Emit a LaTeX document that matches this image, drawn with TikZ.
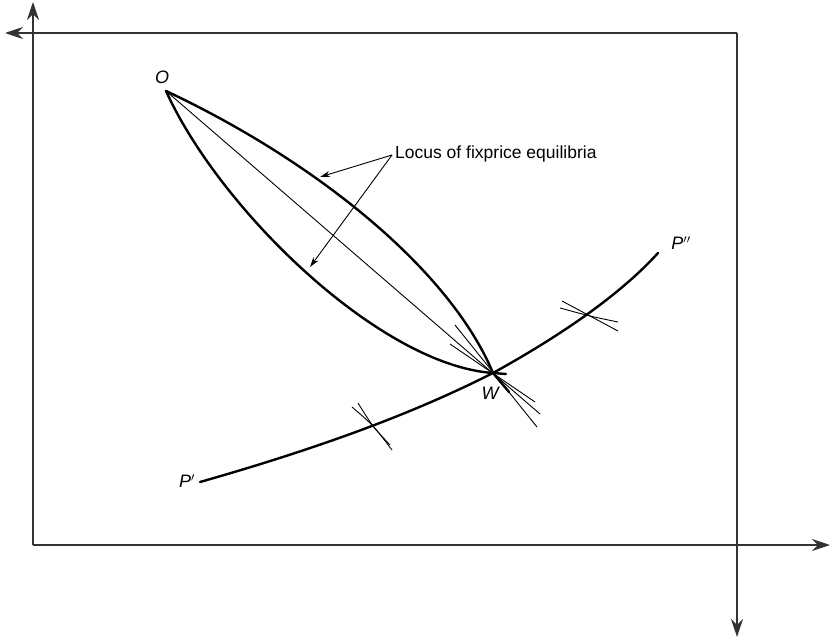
\documentclass[tikz,border=0pt]{standalone}
\usepackage{fontspec}
\setmainfont{Liberation Sans}
\usetikzlibrary{arrows.meta}
\begin{document}
\begin{tikzpicture}[x=1pt,y=-1pt,
  axis/.style={line width=1.4pt,draw=black!80,-{Stealth[length=18pt,width=12pt,inset=6pt]}},
  thick curve/.style={line width=2.4pt,line cap=round},
  thin line/.style={line width=0.9pt},
  lbl/.style={font=\fontsize{18}{20}\selectfont\itshape,inner sep=0pt},
  pointer/.style={line width=0.9pt,-{Stealth[length=10pt,width=6pt,inset=3pt]}}]
\useasboundingbox (0,0) rectangle (833,642);
% axes of the box
\coordinate (BL) at (33,545);
\coordinate (Utip) at (33,2);
\coordinate (TR) at (737,33);
\coordinate (Ltip) at (5,33);
\coordinate (Rtip) at (830,545);
\coordinate (Dtip) at (737,637);
\draw[axis] (BL) -- (Utip);
\draw[axis] (BL) -- (Rtip);
\draw[axis] (TR) -- (Ltip);
\draw[axis] (TR) -- (Dtip);
% points
\coordinate (O) at (166,91);
\coordinate (W) at (493,373);
\coordinate (Pa) at (200,482);
\coordinate (Pb) at (658,253);
% lens curves
\draw[thick curve] (O) .. controls (317,162) and (450,270) .. (W) -- (509,392);
\draw[thick curve] (O) .. controls (220,210) and (380,365) .. (W) -- (506,374);
% straight line O-W and tangents at W
\coordinate (Wa) at (540,414);
\coordinate (Wb1) at (455,325);
\coordinate (Wb2) at (537,427);
\coordinate (Wc1) at (450,344);
\coordinate (Wc2) at (535,402);
\draw[thin line] (O) -- (Wa);
\draw[thin line] (Wb1) -- (Wb2);
\draw[thin line] (Wc1) -- (Wc2);
% price curve
\draw[thick curve] (Pa) .. controls (330,445) and (420,410) .. (W)
  .. controls (560,336) and (620,295) .. (Pb);
% crossing marks (indifference curves tangent at the price curve)
\coordinate (M1) at (373,426);
\coordinate (m1a) at (352,407); \coordinate (m1b) at (392,450);
\coordinate (m1c) at (358,403); \coordinate (m1d) at (390,445);
\draw[thin line] plot[smooth] coordinates {(m1a) (M1) (m1b)};
\draw[thin line] plot[smooth] coordinates {(m1c) (M1) (m1d)};
\coordinate (M2) at (590,316);
\coordinate (m2a) at (560,308); \coordinate (m2b) at (618,322);
\coordinate (m2c) at (562,301); \coordinate (m2d) at (618,331);
\draw[thin line] plot[smooth] coordinates {(m2a) (M2) (m2b)};
\draw[thin line] plot[smooth] coordinates {(m2c) (M2) (m2d)};
% labels
\node[lbl] (lO) at (162,77) {O};
\node[lbl] (lW) at (490,393) {W};
\node[lbl] (lPa) at (187,481) {P$'$};
\node[lbl] (lPb) at (681,243) {P$''$};
\node[font=\fontsize{17.5}{20}\selectfont,inner sep=0pt,anchor=base west] (loc) at (395,158) {Locus of fixprice equilibria};
\coordinate (apex) at (392,155);
\coordinate (t1) at (320,177);
\coordinate (t2) at (310,267);
\draw[pointer] (apex) -- (t1);
\draw[pointer] (apex) -- (t2);
\end{tikzpicture}
\end{document}
